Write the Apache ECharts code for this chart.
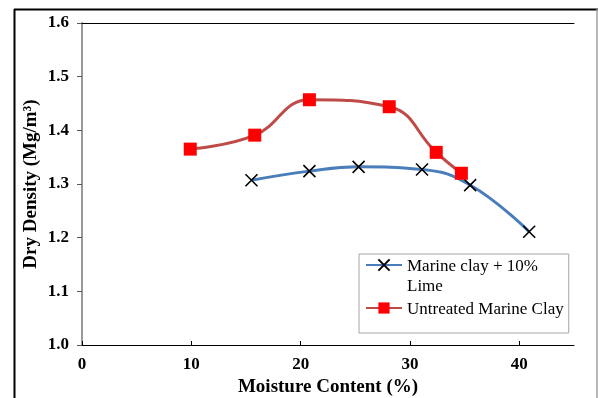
<!DOCTYPE html>
<html>
<head>
<meta charset="utf-8">
<script src="https://cdn.jsdelivr.net/npm/echarts@6/dist/echarts.min.js"></script>
<style>
  html, body { margin: 0; padding: 0; background: #fff; }
  #chart { width: 598px; height: 398px; }
</style>
</head>
<body>
<div id="chart"></div>
<script>
// Compaction curves: dry density against moisture content
const limeName = 'Marine clay + 10% Lime';
const untreatedName = 'Untreated Marine Clay';

const limeMoisture = [15.5, 20.8, 25.3, 31.1, 35.5, 40.9];
const limeDensity  = [1.307, 1.324, 1.332, 1.327, 1.298, 1.211];

const untreatedMoisture = [9.9, 15.8, 20.8, 28.1, 32.4, 34.7];
const untreatedDensity  = [1.365, 1.391, 1.457, 1.444, 1.359, 1.320];

const xTicks = [0, 10, 20, 30, 40];
const yTicks = [1.0, 1.1, 1.2, 1.3, 1.4, 1.5, 1.6];

const pairs = (xs, ys) => xs.map((x, i) => [x, ys[i]]);

const serif = '"Liberation Serif", "Times New Roman", serif';
const crossSymbol = 'path://M0,0L10,10M0,10L10,0';

const chart = echarts.init(document.getElementById('chart'), null, { renderer: 'canvas' });

chart.setOption({
  backgroundColor: '#ffffff',
  animation: false,
  textStyle: { fontFamily: serif },
  grid: { left: 82, right: 24, top: 23, bottom: 53, containLabel: false, outerBoundsMode: 'none' },
  xAxis: [
    {
      type: 'value',
      min: xTicks[0],
      max: 45,
      interval: 10,
      position: 'bottom',
      name: 'Moisture Content (%)',
      nameLocation: 'middle',
      nameGap: 30,
      nameTextStyle: { fontFamily: serif, fontWeight: 'bold', fontSize: 19, color: '#000' },
      axisLine: { lineStyle: { color: '#000', width: 1 } },
      axisTick: { inside: true, length: 4, lineStyle: { color: '#000' } },
      axisLabel: {
        margin: 11, showMaxLabel: false,
        fontFamily: serif, fontWeight: 'bold', fontSize: 17, color: '#000',
        formatter: v => (xTicks.includes(v) ? String(v) : '')
      },
      splitLine: { show: false }
    },
    {
      type: 'value',
      min: xTicks[0],
      max: 45,
      position: 'top',
      axisLine: { show: true, lineStyle: { color: '#000', width: 1 } },
      axisTick: { show: false },
      axisLabel: { show: false },
      splitLine: { show: false }
    }
  ],
  yAxis: [
    {
      type: 'value',
      min: yTicks[0],
      max: yTicks[yTicks.length - 1],
      interval: 0.1,
      position: 'left',
      name: 'Dry Density (Mg/m³)',
      nameLocation: 'middle',
      nameGap: 41,
      nameMoveOverlap: false,
      nameTextStyle: { fontFamily: serif, fontWeight: 'bold', fontSize: 19, color: '#000' },
      axisLine: { show: true, lineStyle: { color: '#868686', width: 1 } },
      axisTick: { show: true, inside: false, length: 5, lineStyle: { color: '#555' } },
      axisLabel: {
        margin: 13,
        fontFamily: serif, fontWeight: 'bold', fontSize: 17, color: '#000',
        formatter: v => v.toFixed(1)
      },
      splitLine: { show: false }
    },
    {
      type: 'value',
      min: yTicks[0],
      max: yTicks[yTicks.length - 1],
      position: 'right',
      axisLine: { show: true, lineStyle: { color: '#9a9a9a', width: 2 } },
      axisTick: { show: false },
      axisLabel: { show: false },
      splitLine: { show: false }
    }
  ],
  legend: {
    orient: 'vertical',
    left: 359,
    top: 254,
    padding: [-19, 5, 15, 6],
    itemGap: 3,
    itemWidth: 36,
    itemHeight: 14,
    backgroundColor: '#fff',
    borderColor: '#a6a6a6',
    borderWidth: 1,
    borderRadius: 0,
    textStyle: {
      fontFamily: serif, fontSize: 17, color: '#000', lineHeight: 20,
      rich: {
        // empty spacer line keeps the icon level with the first text line
        p: { fontFamily: serif, fontSize: 17, lineHeight: 20 },
        t: { fontFamily: serif, fontSize: 17, lineHeight: 20, color: '#000', padding: [3, 0, 0, 0] }
      }
    },
    formatter: name => (name === limeName
      ? '{p| }\n{t|Marine clay + 10%}\n{t|Lime}'
      : '{t|' + name + '}'),
    data: [limeName, untreatedName]
  },
  graphic: [
    // outer chart frame
    { type: 'line', shape: { x1: 14.5, y1: 9, x2: 14.5, y2: 398 }, style: { stroke: '#000', lineWidth: 2 }, silent: true },
    { type: 'line', shape: { x1: 14, y1: 9.5, x2: 598, y2: 9.5 }, style: { stroke: '#000', lineWidth: 2 }, silent: true },
    { type: 'line', shape: { x1: 597, y1: 9, x2: 597, y2: 398 }, style: { stroke: '#a0a0a0', lineWidth: 1.5 }, silent: true }
  ],
  series: [
    {
      name: limeName,
      type: 'line',
      data: pairs(limeMoisture, limeDensity),
      smooth: 0.45,
      symbol: crossSymbol,
      symbolSize: 12,
      lineStyle: { color: '#4a7ebb', width: 3 },
      itemStyle: { color: '#000', borderColor: '#000', borderWidth: 1.6 },
      z: 3
    },
    {
      name: untreatedName,
      type: 'line',
      data: pairs(untreatedMoisture, untreatedDensity),
      smooth: 0.45,
      symbol: 'rect',
      symbolSize: 13,
      lineStyle: { color: '#be4b48', width: 3 },
      itemStyle: { color: '#ff0000', borderWidth: 0 },
      z: 4
    }
  ]
});
</script>
</body>
</html>
